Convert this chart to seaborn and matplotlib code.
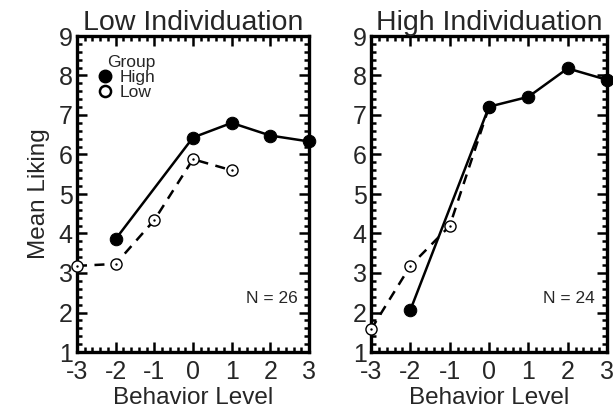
import matplotlib
matplotlib.use("Agg")
import matplotlib.pyplot as plt
import seaborn as sns
import pandas as pd
from matplotlib.ticker import MultipleLocator
from matplotlib.lines import Line2D

sns.set_theme(style="ticks")
plt.rcParams['font.family'] = ['Liberation Sans', 'DejaVu Sans']

levels = [-3, -2, -1, 0, 1, 2, 3]
panel_titles = ["Low Individuation", "High Individuation"]
n_labels = ["N = 26", "N = 24"]

# Low Individuation panel
low_ind_high_x = [-2, 0, 1, 2, 3]
low_ind_high_y = [3.86, 6.43, 6.80, 6.48, 6.33]
low_ind_low_x = [-3, -2, -1, 0, 1]
low_ind_low_y = [3.18, 3.23, 4.34, 5.88, 5.60]

# High Individuation panel
high_ind_high_x = [-2, 0, 1, 2, 3]
high_ind_high_y = [2.06, 7.21, 7.46, 8.18, 7.89]
high_ind_low_x = [-3, -2, -1, 0]
high_ind_low_y = [1.57, 3.18, 4.19, 7.20]

panels = [
    (low_ind_high_x, low_ind_high_y, low_ind_low_x, low_ind_low_y),
    (high_ind_high_x, high_ind_high_y, high_ind_low_x, high_ind_low_y),
]

fig = plt.figure(figsize=(6.13, 4.15), dpi=100)
ax_pos = [(77/613, 1-352/415, 232/613, 316/415), (371/613, 1-352/415, 236/613, 316/415)]

for i, (hx, hy, lx, ly) in enumerate(panels):
    ax = fig.add_axes(ax_pos[i])
    dl = pd.DataFrame({"x": lx, "y": ly})
    dh = pd.DataFrame({"x": hx, "y": hy})
    sns.lineplot(data=dl, x="x", y="y", ax=ax, color="black", linewidth=1.8,
                 marker="o", markersize=8, markerfacecolor="white",
                 markeredgecolor="black", markeredgewidth=1.0, zorder=3,
                 clip_on=False)
    ax.lines[-1].set_dashes([4, 3])
    sns.scatterplot(data=dl, x="x", y="y", ax=ax, color="black", s=3,
                    marker="o", zorder=4, clip_on=False, linewidth=0)
    sns.lineplot(data=dh, x="x", y="y", ax=ax, color="black", linewidth=1.8,
                 marker="o", markersize=9, markerfacecolor="black",
                 markeredgecolor="black", zorder=5, clip_on=False)
    ax.set_xlim(-3, 3)
    ax.set_ylim(1, 9)
    ax.set_xticks(levels)
    ax.set_xticklabels([str(v) for v in levels])
    ax.set_yticks(range(1, 10))
    ax.xaxis.set_minor_locator(MultipleLocator(0.2))
    ax.yaxis.set_minor_locator(MultipleLocator(0.2))
    ax.tick_params(which="both", direction="in", top=True, right=True,
                   width=1.8, color="black")
    ax.tick_params(which="major", length=7, labelsize=18)
    ax.tick_params(axis="x", which="major", pad=6)
    ax.tick_params(axis="y", which="major", pad=3)
    ax.tick_params(which="minor", length=3.5)
    for s in ax.spines.values():
        s.set_linewidth(2.4)
        s.set_color("black")
    ax.set_title(panel_titles[i], fontsize=20.5, pad=3)
    ax.set_xlabel("Behavior Level", fontsize=17.5, labelpad=2)
    if i == 0:
        ax.set_ylabel("Mean Liking", fontsize=17.5, labelpad=6)
    else:
        ax.set_ylabel("")
    ax.text(0.95, 0.17, n_labels[i], transform=ax.transAxes, ha="right",
            va="center", fontsize=12.5)
    if i == 0:
        handles = [
            Line2D([], [], color="black", marker="o", linestyle="none",
                   markersize=9),
            Line2D([], [], color="black", marker="o", linestyle="none",
                   markersize=8, markerfacecolor="white", markeredgewidth=1.8),
        ]
        leg = ax.legend(handles, ["High", "Low"], title="Group", loc="upper left",
                        bbox_to_anchor=(0.10, 0.94), frameon=False, fontsize=12.5,
                        title_fontsize=12.5, handlelength=0.6, handletextpad=0.5,
                        labelspacing=0.0, borderpad=0.0, borderaxespad=0.0)
        leg._legend_box.align = "right"
        leg._legend_box.sep = 0

fig.savefig("out.png", dpi=100)
